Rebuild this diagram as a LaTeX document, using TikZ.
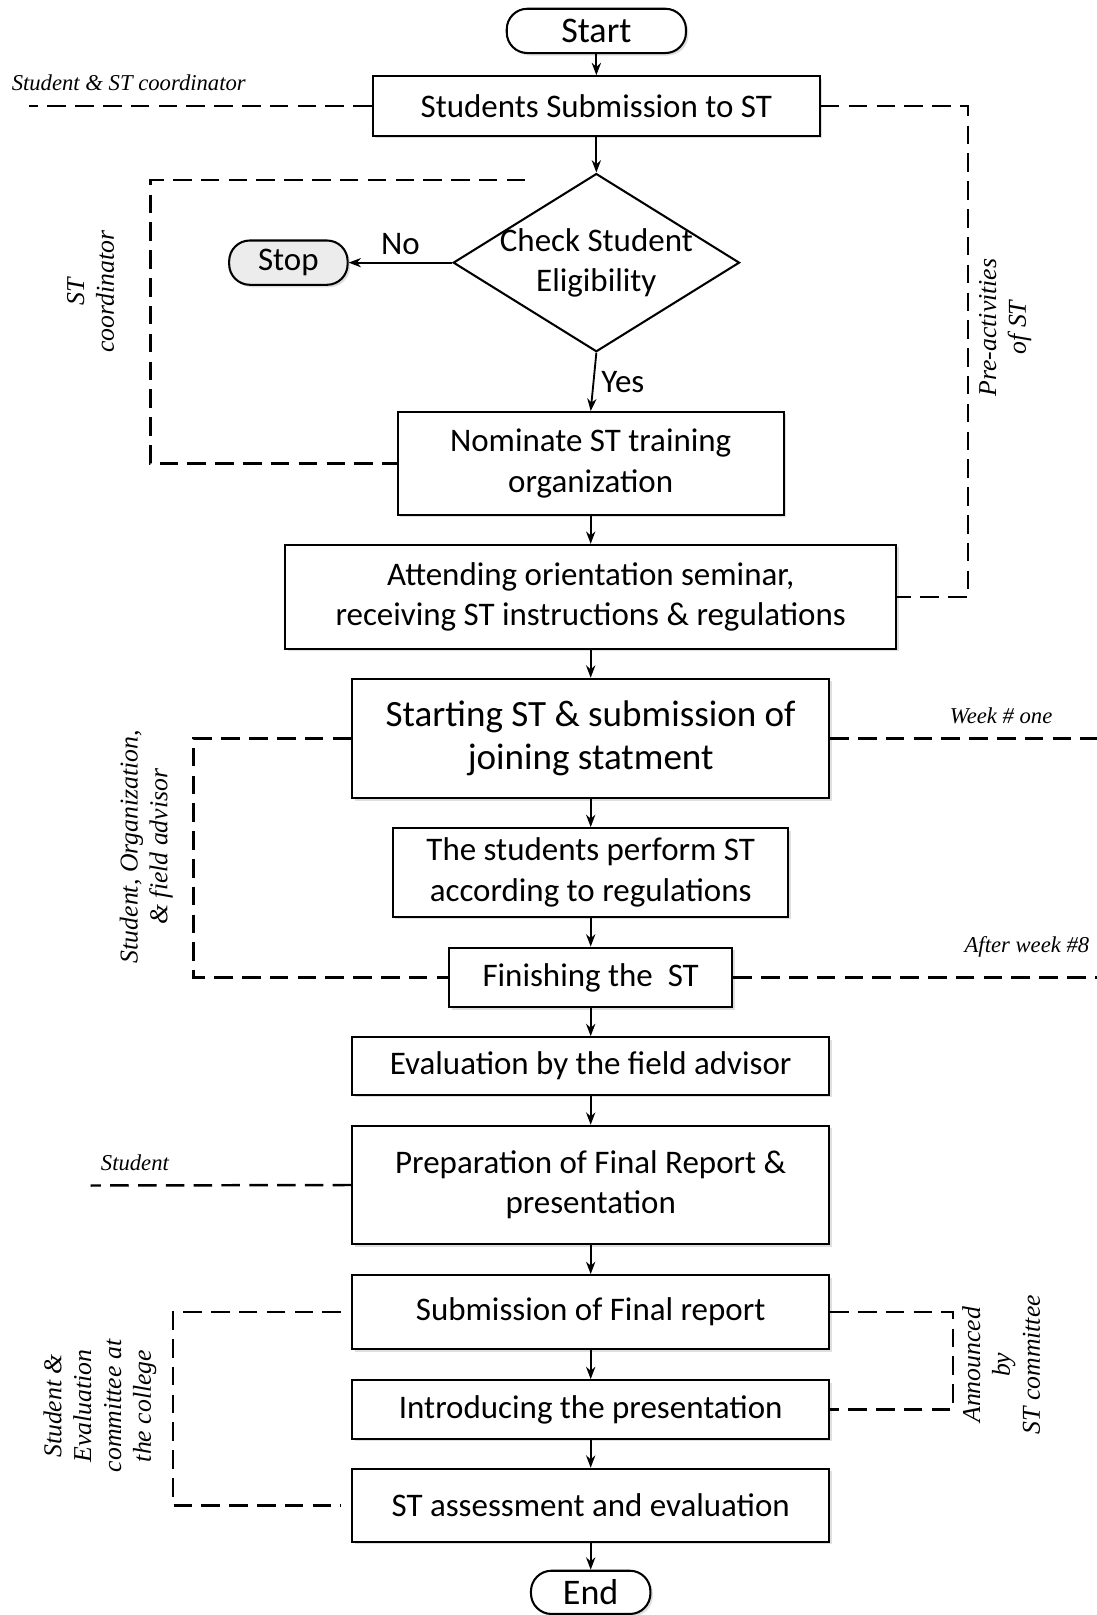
\documentclass[tikz,border=0pt]{standalone}
\usepackage{fontspec}
\setmainfont{Carlito}
\newfontfamily\notefont{Liberation Serif}
\usetikzlibrary{shapes.geometric,arrows.meta,shadows}

\begin{document}
\begin{tikzpicture}[x=0.5pt,y=-0.5pt,
  font=\fontsize{16}{19.5}\selectfont,
  box/.style={rectangle,draw,line width=1pt,fill=white,align=center,inner sep=0pt,
    drop shadow={shadow xshift=1.2pt,shadow yshift=-1.2pt,opacity=0.25}},
  term/.style={box,rounded corners=10pt},
  decision/.style={diamond,draw,line width=1pt,fill=white,inner sep=0pt},
  flow/.style={-{Stealth[length=6pt,width=4.5pt]},line width=0.9pt},
  dashline/.style={dash pattern=on 9pt off 4.5pt,line width=1.2pt},
  note/.style={font=\notefont\itshape\fontsize{11}{13}\selectfont},
  vnote/.style={font=\notefont\itshape\fontsize{12.5}{14.5}\selectfont,rotate=90,align=center}]
\useasboundingbox (0,0) rectangle (1065,1568);

\node[term,minimum width=87pt,minimum height=21.5pt,font=\fontsize{17.5}{20}\selectfont] (start) at (579,30) {Start};
\node[box,minimum width=217pt,minimum height=29pt] (submit) at (579,103) {Students Submission to ST};
\node[decision,minimum width=139pt,minimum height=86.5pt,
  label={[align=center]center:Check Student\\Eligibility}] (check) at (579,255) {};
\node[term,fill=gray!15,minimum width=57.5pt,minimum height=21.5pt] (stop) at (280,255) {Stop};
\node[box,minimum width=187.5pt,minimum height=50pt] (nominate) at (573.5,450) {Nominate ST training\\organization};
\node[box,minimum width=296.5pt,minimum height=50.5pt] (attend) at (573.5,579.5) {Attending orientation seminar,\\receiving ST instructions \& regulations};
\node[box,minimum width=231.5pt,minimum height=58pt,font=\fontsize{18}{21}\selectfont] (begin) at (573.5,717) {Starting ST \& submission of\\joining statment};
\node[box,minimum width=192pt,minimum height=43pt] (perform) at (573.5,847) {The students perform ST\\according to regulations};
\node[box,minimum width=137.5pt,minimum height=29pt] (finish) at (573.5,949) {Finishing the\ \ ST};
\node[box,minimum width=231.5pt,minimum height=28pt] (advisor) at (573.5,1035) {Evaluation by the field advisor};
\node[box,minimum width=231.5pt,minimum height=57.5pt] (report) at (573.5,1150.5) {Preparation of Final Report \&\\presentation};
\node[box,minimum width=231.5pt,minimum height=36pt] (hand) at (573.5,1274) {Submission of Final report};
\node[box,minimum width=231.5pt,minimum height=28.5pt] (present) at (573.5,1368.5) {Introducing the presentation};
\node[box,minimum width=231.5pt,minimum height=35.5pt] (assess) at (573.5,1461.5) {ST assessment and evaluation};
\node[term,minimum width=58pt,minimum height=21pt,font=\fontsize{17.5}{20}\selectfont] (end) at (573.5,1546) {End};

\draw[flow] (start) -- (submit);
\draw[flow] (submit) -- (check);
\draw[flow] (check.west) -- node[above]{No} (stop.east);
\draw[flow] (check.south) -- node[right]{Yes} (nominate.north);
\foreach \a/\b in {nominate/attend,attend/begin,begin/perform,perform/finish,finish/advisor,
  advisor/report,report/hand,hand/present,present/assess,assess/end}
  \draw[flow] (\a) -- (\b);

% pre-activities
\coordinate (l1) at (28,103);
\draw[dashline] (submit.west) -- (l1);
\node[note] (n1) at (125,80) {Student \& ST coordinator};
\coordinate (r1) at (940,300);
\draw[dashline] (submit.east) -| (r1) |- (attend.east);
\node[vnote] (n2) at (976,318) {Pre-activities\\of ST};
\coordinate (c1) at (510,175);
\coordinate (c2) at (146,300);
\draw[dashline] (c1) -| (c2) |- (nominate.west);
\node[vnote] (n3) at (88,283) {ST\\coordinator};

% training weeks
\coordinate (w1) at (188,800);
\draw[dashline] (begin.west) -| (w1) |- (finish.west);
\coordinate (w2) at (1065,717);
\draw[dashline] (begin.east) -- (w2);
\coordinate (w3) at (1065,949);
\draw[dashline] (finish.east) -- (w3);
\node[note] (n4) at (972,695) {Week \# one};
\node[note] (n5) at (997,919) {After week \#8};
\node[vnote] (n6) at (142,822) {Student, Organization,\\\& field advisor};

% report and evaluation
\coordinate (s1) at (88,1151);
\draw[dashline] (report.west) -- (s1);
\node[note] (n7) at (131,1129) {Student};
\coordinate (e1) at (168,1370);
\draw[dashline,shorten <=5pt,shorten >=5pt] (hand.west) -| (e1) |- (assess.west);
\node[vnote] (n8) at (97,1365) {Student \&\\Evaluation\\committee at\\the college};
\coordinate (a1) at (925,1320);
\draw[dashline] (hand.east) -| (a1) |- (present.east);
\node[vnote] (n9) at (972,1325) {Announced\\by\\ST committee};
\end{tikzpicture}
\end{document}
